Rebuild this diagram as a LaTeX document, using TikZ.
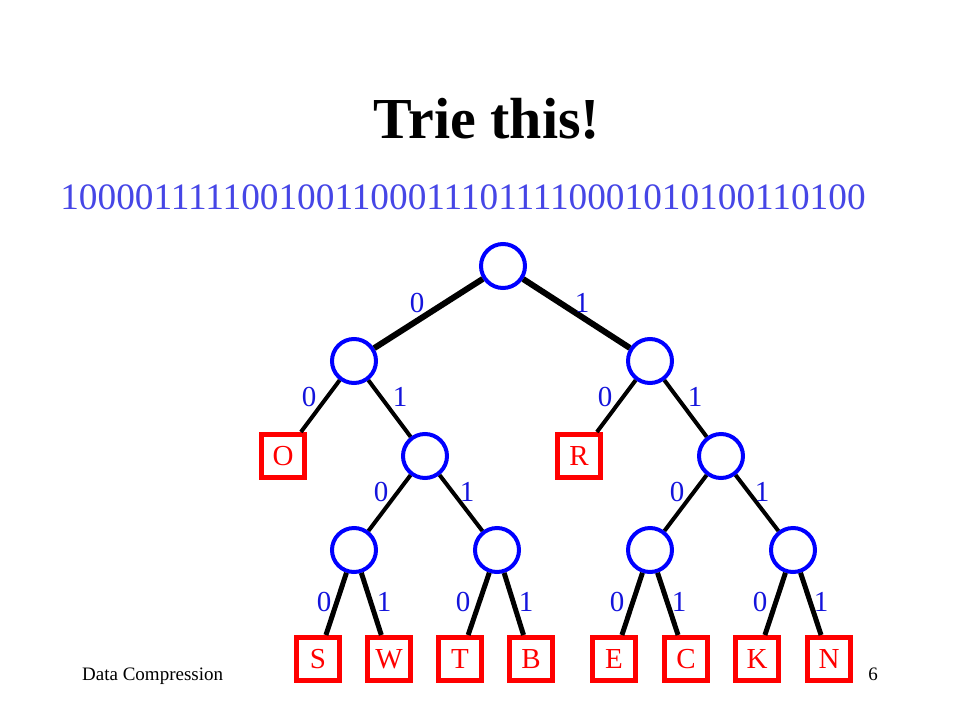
\documentclass[tikz,border=0pt]{standalone}
\usepackage{fontspec}
\setmainfont{Liberation Serif}
\definecolor{bitblue}{RGB}{70,70,230}
\definecolor{labblue}{RGB}{20,20,220}
\tikzset{
	inner/.style={circle,draw=blue,line width=4pt,minimum size=44pt,inner sep=0pt},
	leaf/.style={rectangle,draw=red,line width=5pt,minimum size=43pt,inner sep=0pt,text=red,font=\fontsize{29}{29}\selectfont},
	bit/.style={text=labblue,font=\fontsize{29}{29}\selectfont,inner sep=0pt}
}
\begin{document}
\begin{tikzpicture}[x=1pt,y=-1pt]
	\useasboundingbox (0,0) rectangle (960,720);
	\node[anchor=base,inner sep=0pt,font=\bfseries\fontsize{58}{58}\selectfont] (title) at (487,138) {Trie this!};
	\node[anchor=base,inner sep=0pt,text=bitblue,font=\fontsize{37.3}{37.3}\selectfont] (code) at (463,209) {10000111110010011000111011110001010100110100};
	\node[anchor=base west,inner sep=0pt,font=\fontsize{19}{19}\selectfont] (foot) at (82,680) {Data Compression};
	\node[anchor=base east,inner sep=0pt,font=\fontsize{19}{19}\selectfont] (page) at (878,680) {6};
	
	\node[inner] (root) at (503,266) {};
	\node[inner] (l) at (354,361) {};
	\node[inner] (r) at (650,361) {};
	\node[leaf] (o) at (283,456) {O};
	\node[inner] (lr) at (425,456) {};
	\node[leaf] (rb) at (579,456) {R};
	\node[inner] (rr) at (721,456) {};
	\node[inner] (lrl) at (354,550) {};
	\node[inner] (lrr) at (497,550) {};
	\node[inner] (rrl) at (650,550) {};
	\node[inner] (rrr) at (793,550) {};
	\node[leaf] (s) at (318,659) {S};
	\node[leaf] (w) at (389,659) {W};
	\node[leaf] (t) at (460,659) {T};
	\node[leaf] (b) at (531,659) {B};
	\node[leaf] (e) at (614,659) {E};
	\node[leaf] (c) at (686,659) {C};
	\node[leaf] (k) at (757,659) {K};
	\node[leaf] (n) at (829,659) {N};
	
	\draw [line width = 6pt](root)--(l);
	\draw [line width = 6pt](root)--(r);
	\draw [line width = 4pt](l)--(o);
	\draw [line width = 4pt](l)--(lr);
	\draw [line width = 4pt](r)--(rb);
	\draw [line width = 4pt](r)--(rr);
	\draw [line width = 4pt](lr)--(lrl);
	\draw [line width = 4pt](lr)--(lrr);
	\draw [line width = 4pt](rr)--(rrl);
	\draw [line width = 4pt](rr)--(rrr);
	\draw [line width = 5pt](lrl)--(s);
	\draw [line width = 5pt](lrl)--(w);
	\draw [line width = 5pt](lrr)--(t);
	\draw [line width = 5pt](lrr)--(b);
	\draw [line width = 5pt](rrl)--(e);
	\draw [line width = 5pt](rrl)--(c);
	\draw [line width = 5pt](rrr)--(k);
	\draw [line width = 5pt](rrr)--(n);
	
	\node[bit] (b0) at (417,303) {0};
	\node[bit] (b1) at (582,303) {1};
	\node[bit] (b00) at (309,397) {0};
	\node[bit] (b01) at (400,397) {1};
	\node[bit] (b10) at (605,397) {0};
	\node[bit] (b11) at (695,397) {1};
	\node[bit] (b010) at (381,492) {0};
	\node[bit] (b011) at (467,492) {1};
	\node[bit] (b110) at (677,492) {0};
	\node[bit] (b111) at (762,492) {1};
	\node[bit] (b0100) at (324,602) {0};
	\node[bit] (b0101) at (384,602) {1};
	\node[bit] (b0110) at (463,602) {0};
	\node[bit] (b0111) at (526,602) {1};
	\node[bit] (b1100) at (617,602) {0};
	\node[bit] (b1101) at (679,602) {1};
	\node[bit] (b1110) at (760,602) {0};
	\node[bit] (b1111) at (821,602) {1};
	
\end{tikzpicture}
\end{document}
